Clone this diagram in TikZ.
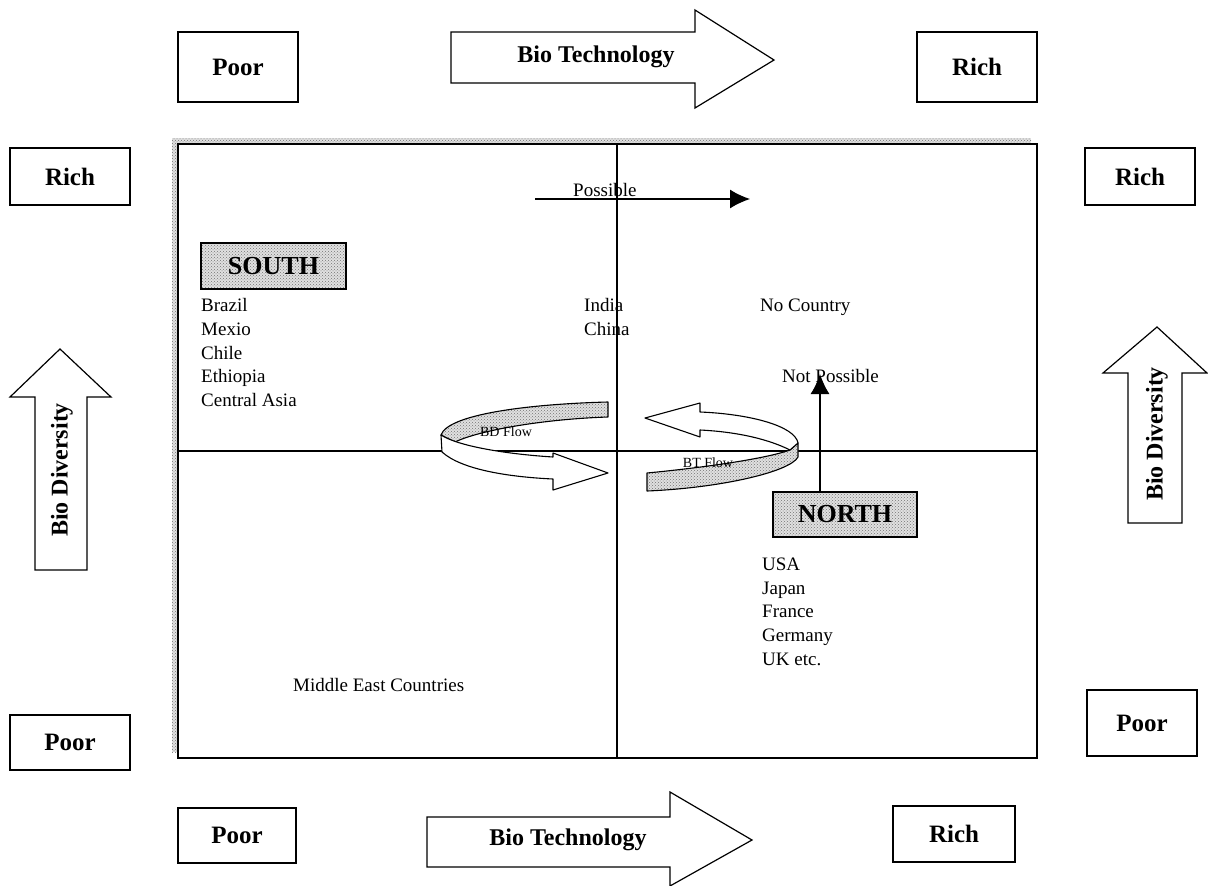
\documentclass[tikz,border=0pt]{standalone}
\usepackage{fontspec}
\setmainfont{Liberation Serif}
\usetikzlibrary{patterns,arrows.meta}
\begin{document}
\begin{tikzpicture}[x=1pt,y=-1pt,
  lblbox/.style={draw, line width=1.3pt, fill=white, inner sep=0pt, font=\bfseries\fontsize{25}{30}\selectfont},
  bigarrow/.style={draw, line width=1.2pt, fill=white, line join=miter},
  bigtxt/.style={inner sep=0pt, font=\bfseries\fontsize{24}{28}\selectfont},
  shadefill/.style={preaction={fill=black!12}, pattern=crosshatch dots, pattern color=black!55},
  regionbox/.style={draw, line width=1.3pt, shadefill, inner sep=0pt, font=\bfseries\fontsize{26}{30}\selectfont},
  txt/.style={inner sep=0pt, anchor=west, text height=13pt, text depth=4pt, font=\fontsize{19}{22}\selectfont},
  smalltxt/.style={inner sep=0pt, font=\fontsize{14}{16}\selectfont},
  ribbon/.style={draw, line width=1.1pt, line join=round},
  thin/.style={line width=1.2pt},
  solidtip/.style={-{Latex[length=20pt,width=19pt]}, line width=1.2pt}
]
\useasboundingbox (0,0) rectangle (1208,886);
\fill[white] (0,0) rectangle (1208,886);

% ---------- main frame with dotted shadow ----------
\path[shadefill] (172,138) rectangle (1031,752);
\draw[line width=2.4pt, fill=white] (178,144) rectangle (1037,758);
\coordinate (vt) at (617,144);
\coordinate (vb) at (617,758);
\coordinate (hl) at (178,451);
\coordinate (hr) at (1037,451);
\draw[thin] (vt) -- (vb);
\draw[thin] (hl) -- (hr);

% ---------- corner boxes ----------
\node[lblbox, minimum width=120pt, minimum height=70pt] (tpoor) at (238,67) {Poor};
\node[lblbox, minimum width=120pt, minimum height=70pt] (trich) at (977,67) {Rich};
\node[lblbox, minimum width=120pt, minimum height=57pt] (lrich) at (70,176.5) {Rich};
\node[lblbox, minimum width=120pt, minimum height=55pt] (lpoor) at (70,742.5) {Poor};
\node[lblbox, minimum width=110pt, minimum height=57pt] (rrich) at (1140,176.5) {Rich};
\node[lblbox, minimum width=110pt, minimum height=66pt] (rpoor) at (1142,723) {Poor};
\node[lblbox, minimum width=118pt, minimum height=55pt] (bpoor) at (237,835.5) {Poor};
\node[lblbox, minimum width=122pt, minimum height=56pt] (brich) at (954,834) {Rich};

% ---------- big arrows ----------
\draw[bigarrow] (451,32) -- (695,32) -- (695,10) -- (774,60) -- (695,108) -- (695,83) -- (451,83) -- cycle;
\node[bigtxt] (tbt) at (596,57) {Bio Technology};

\draw[bigarrow] (427,817) -- (670,817) -- (670,792) -- (752,840) -- (670,886) -- (670,867) -- (427,867) -- cycle;
\node[bigtxt] (bbt) at (568,840) {Bio Technology};

\draw[bigarrow] (35,570) -- (35,397) -- (10,397) -- (60,349) -- (111,397) -- (87,397) -- (87,570) -- cycle;
\node[bigtxt, rotate=90] (lbd) at (62,470) {Bio Diversity};

\draw[bigarrow] (1128,523) -- (1128,373) -- (1103,373) -- (1157,327) -- (1207,373) -- (1182,373) -- (1182,523) -- cycle;
\node[bigtxt, rotate=90] (rbd) at (1157,434) {Bio Diversity};

% ---------- region labels ----------
\node[regionbox, minimum width=145pt, minimum height=46pt] (south) at (273.5,266) {SOUTH};
\node[regionbox, minimum width=144pt, minimum height=45pt] (north) at (845,514.5) {NORTH};

% ---------- country lists ----------
\node[txt] (brazil) at (201,307) {Brazil};
\node[txt] (mexio) at (201,331) {Mexio};
\node[txt] (chile) at (201,355) {Chile};
\node[txt] (ethiopia) at (201,378) {Ethiopia};
\node[txt] (casia) at (201,402) {Central Asia};

\node[txt] (india) at (584,307) {India};
\node[txt] (china) at (584,331) {China};
\node[txt] (nocountry) at (760,307) {No Country};

\node[txt] (usa) at (762,566) {USA};
\node[txt] (japan) at (762,590) {Japan};
\node[txt] (france) at (762,613) {France};
\node[txt] (germany) at (762,637) {Germany};
\node[txt] (uk) at (762,661) {UK etc.};

\node[txt] (mec) at (293,687) {Middle East Countries};

% ---------- possible / not possible ----------
\coordinate (ps) at (535,199);
\coordinate (pe) at (750,199);
\draw[solidtip] (ps) -- (pe);
\node[txt, anchor=base west] (possible) at (573,196) {Possible};

\node[txt] (notpossible) at (782,378) {Not Possible};
\coordinate (np) at (820,374);
\draw[solidtip] (north.north -| np) -- (np);

% ---------- BD flow ribbon ----------
\path[ribbon, shadefill] (608,402) .. controls (530,404) and (448,414) .. (441,435)
   -- (455,442) .. controls (480,430) and (545,419) .. (608,417) -- cycle;
\path[ribbon, fill=white] (441,435) -- (442,452) .. controls (462,470) and (510,477) .. (553,479)
   -- (553,490) -- (608,473) -- (553,453) -- (553,457) .. controls (505,454) and (458,446) .. (441,435) -- cycle;
\node[smalltxt] (bdflow) at (506,432) {BD Flow};

% ---------- BT flow ribbon ----------
\path[ribbon, shadefill] (647,473) .. controls (700,468) and (765,459) .. (790,450) -- (798,443) -- (798,457)
   .. controls (790,472) and (720,488) .. (647,491) -- cycle;
\path[ribbon, fill=white] (645,418) -- (700,403) -- (700,412) .. controls (750,414) and (795,426) .. (798,443)
   -- (790,450) .. controls (770,440) and (740,432) .. (700,430) -- (700,437) -- cycle;
\node[smalltxt] (btflow) at (708,463) {BT Flow};
\end{tikzpicture}
\end{document}
